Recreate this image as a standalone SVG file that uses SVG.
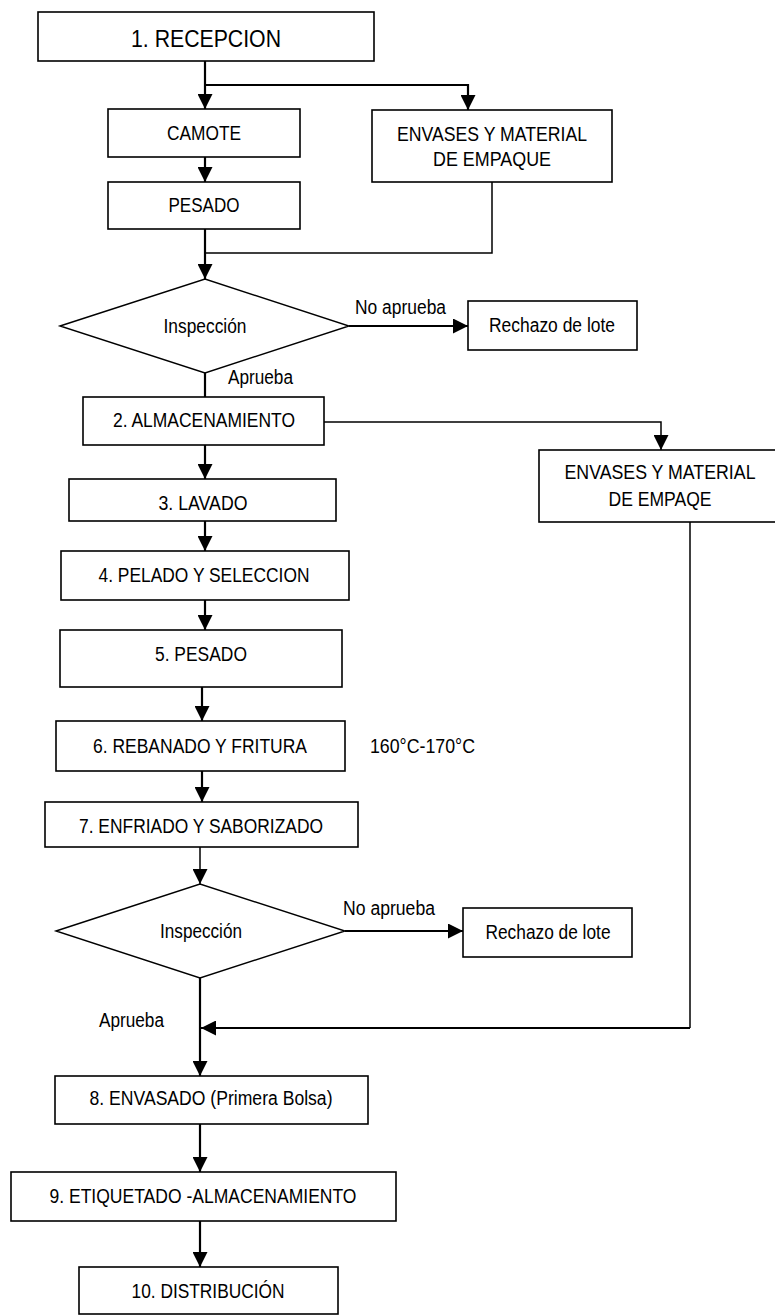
<svg xmlns="http://www.w3.org/2000/svg" width="775" height="1316" viewBox="0 0 775 1316">
  <style>
    .box { fill: #ffffff; stroke: #000000; stroke-width: 1.6; }
    .dec { fill: #ffffff; stroke: #000000; stroke-width: 1.4; }
    .lbl { font-family: "Liberation Sans Narrow", "Liberation Sans", Arial, sans-serif; font-size: 20px; fill: #000000; }
    .big { font-size: 24px; }
    .mid { text-anchor: middle; }
    .flow { fill: none; stroke: #000000; stroke-width: 2.2; }
    .thin { fill: none; stroke: #000000; stroke-width: 1.5; }
  </style>
  <defs>
    <marker id="head" markerUnits="userSpaceOnUse" markerWidth="15" markerHeight="15" refX="15" refY="7.5" orient="auto">
      <path d="M0,0 L15,7.5 L0,15 Z" fill="#000000"/>
    </marker>
  </defs>
  <rect width="775" height="1316" fill="#ffffff"/>

  <!-- connectors -->
  <g id="connectors">
    <path class="flow" d="M205,61 V109" marker-end="url(#head)"/>
    <path class="flow" d="M205,85 H468 V110" marker-end="url(#head)"/>
    <path class="flow" d="M205,157 V182" marker-end="url(#head)"/>
    <path class="thin" d="M492,182 V253 H205"/>
    <path class="flow" d="M205,229 V279" marker-end="url(#head)"/>
    <path class="flow" d="M349,326 H468" marker-end="url(#head)"/>
    <path class="flow" d="M205,373 V397"/>
    <path class="thin" d="M324,422 H661 V450" marker-end="url(#head)"/>
    <path class="flow" d="M205,445 V479" marker-end="url(#head)"/>
    <path class="flow" d="M205,521 V551" marker-end="url(#head)"/>
    <path class="flow" d="M205,600 V630" marker-end="url(#head)"/>
    <path class="flow" d="M202,687 V721" marker-end="url(#head)"/>
    <path class="flow" d="M202,771 V802" marker-end="url(#head)"/>
    <path class="thin" d="M200,847 V884" marker-end="url(#head)"/>
    <path class="flow" d="M345,931 H463" marker-end="url(#head)"/>
    <path class="flow" d="M200,978 V1076" marker-end="url(#head)"/>
    <path class="thin" d="M690,522 V1028"/>
    <path class="flow" d="M690,1028 H201" marker-end="url(#head)"/>
    <path class="flow" d="M200,1124 V1172" marker-end="url(#head)"/>
    <path class="flow" d="M200,1221 V1267" marker-end="url(#head)"/>
  </g>

  <!-- edge labels and notes -->
  <g id="labels">
    <text class="lbl" x="355" y="314" textLength="91" lengthAdjust="spacingAndGlyphs">No aprueba</text>
    <text class="lbl" x="228" y="384" textLength="65" lengthAdjust="spacingAndGlyphs">Aprueba</text>
    <text class="lbl" x="370" y="753" textLength="105" lengthAdjust="spacingAndGlyphs">160°C-170°C</text>
    <text class="lbl" x="343" y="915" textLength="92" lengthAdjust="spacingAndGlyphs">No aprueba</text>
    <text class="lbl" x="99" y="1027" textLength="65" lengthAdjust="spacingAndGlyphs">Aprueba</text>
  </g>

  <g id="recepcion">
    <rect class="box" x="38" y="12" width="336" height="49"/>
    <text class="lbl big mid" x="206" y="47" textLength="150" lengthAdjust="spacingAndGlyphs">1. RECEPCION</text>
  </g>

  <g id="camote">
    <rect class="box" x="108" y="109" width="192" height="48"/>
    <text class="lbl mid" x="204" y="140" textLength="74" lengthAdjust="spacingAndGlyphs">CAMOTE</text>
  </g>

  <g id="envases-1">
    <rect class="box" x="372" y="110" width="240" height="72"/>
    <text class="lbl mid" x="492" y="141" textLength="190" lengthAdjust="spacingAndGlyphs">ENVASES Y MATERIAL</text>
    <text class="lbl mid" x="492" y="166" textLength="118" lengthAdjust="spacingAndGlyphs">DE EMPAQUE</text>
  </g>

  <g id="pesado-1">
    <rect class="box" x="108" y="182" width="192" height="47"/>
    <text class="lbl mid" x="204" y="212" textLength="71" lengthAdjust="spacingAndGlyphs">PESADO</text>
  </g>

  <g id="inspeccion-1">
    <polygon class="dec" points="60,326 205,279 349,326 205,373"/>
    <text class="lbl mid" x="205" y="333" textLength="83" lengthAdjust="spacingAndGlyphs">Inspección</text>
  </g>

  <g id="rechazo-1">
    <rect class="box" x="468" y="301" width="169" height="49"/>
    <text class="lbl mid" x="552" y="332" textLength="126" lengthAdjust="spacingAndGlyphs">Rechazo de lote</text>
  </g>

  <g id="almacenamiento">
    <rect class="box" x="83" y="397" width="241" height="48"/>
    <text class="lbl mid" x="204" y="427" textLength="182" lengthAdjust="spacingAndGlyphs">2. ALMACENAMIENTO</text>
  </g>

  <!-- this box runs past the right edge of the sheet -->
  <g id="envases-2">
    <rect class="box" x="539" y="450" width="250" height="72"/>
    <text class="lbl mid" x="660" y="479" textLength="191" lengthAdjust="spacingAndGlyphs">ENVASES Y MATERIAL</text>
    <text class="lbl mid" x="660" y="506" textLength="103" lengthAdjust="spacingAndGlyphs">DE EMPAQE</text>
  </g>

  <g id="lavado">
    <rect class="box" x="69" y="479" width="267" height="42"/>
    <text class="lbl mid" x="203" y="510" textLength="89" lengthAdjust="spacingAndGlyphs">3. LAVADO</text>
  </g>

  <g id="pelado">
    <rect class="box" x="61" y="551" width="288" height="49"/>
    <text class="lbl mid" x="204" y="582" textLength="211" lengthAdjust="spacingAndGlyphs">4. PELADO Y SELECCION</text>
  </g>

  <g id="pesado-2">
    <rect class="box" x="60" y="630" width="282" height="57"/>
    <text class="lbl mid" x="201" y="661" textLength="92" lengthAdjust="spacingAndGlyphs">5. PESADO</text>
  </g>

  <g id="rebanado">
    <rect class="box" x="56" y="721" width="289" height="50"/>
    <text class="lbl mid" x="200" y="753" textLength="214" lengthAdjust="spacingAndGlyphs">6. REBANADO Y FRITURA</text>
  </g>

  <g id="enfriado">
    <rect class="box" x="45" y="802" width="313" height="45"/>
    <text class="lbl mid" x="201" y="833" textLength="244" lengthAdjust="spacingAndGlyphs">7. ENFRIADO Y SABORIZADO</text>
  </g>

  <g id="inspeccion-2">
    <polygon class="dec" points="56,931 200,884 345,931 200,978"/>
    <text class="lbl mid" x="201" y="938" textLength="82" lengthAdjust="spacingAndGlyphs">Inspección</text>
  </g>

  <g id="rechazo-2">
    <rect class="box" x="463" y="908" width="169" height="49"/>
    <text class="lbl mid" x="548" y="939" textLength="125" lengthAdjust="spacingAndGlyphs">Rechazo de lote</text>
  </g>

  <g id="envasado">
    <rect class="box" x="55" y="1076" width="313" height="48"/>
    <text class="lbl mid" x="211" y="1105" textLength="243" lengthAdjust="spacingAndGlyphs">8. ENVASADO (Primera Bolsa)</text>
  </g>

  <g id="etiquetado">
    <rect class="box" x="11" y="1172" width="385" height="49"/>
    <text class="lbl mid" x="203" y="1203" textLength="307" lengthAdjust="spacingAndGlyphs">9. ETIQUETADO -ALMACENAMIENTO</text>
  </g>

  <g id="distribucion">
    <rect class="box" x="79" y="1267" width="259" height="47"/>
    <text class="lbl mid" x="208" y="1298" textLength="153" lengthAdjust="spacingAndGlyphs">10. DISTRIBUCIÓN</text>
  </g>
</svg>
